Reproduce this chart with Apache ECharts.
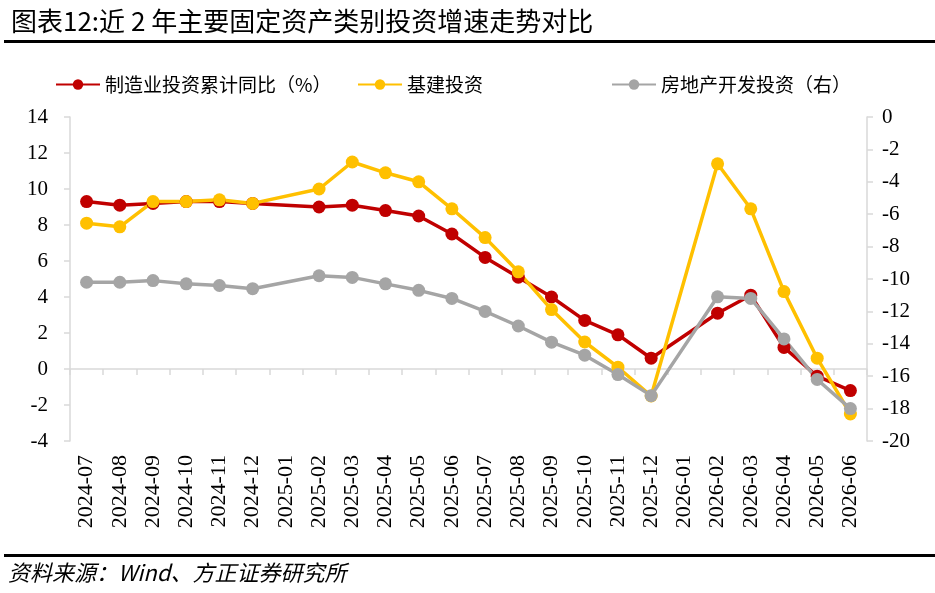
<!DOCTYPE html>
<html>
<head>
<meta charset="utf-8">
<script src="https://cdn.jsdelivr.net/npm/echarts@6/dist/echarts.min.js"></script>
<style>
  html, body { margin: 0; padding: 0; background: #fff; }
  #chart { width: 935px; height: 593px; }
</style>
</head>
<body>
<div id="chart"></div>
<script>
  var months = ['2024-07', '2024-08', '2024-09', '2024-10', '2024-11', '2024-12',
    '2025-01', '2025-02', '2025-03', '2025-04', '2025-05', '2025-06',
    '2025-07', '2025-08', '2025-09', '2025-10', '2025-11', '2025-12',
    '2026-01', '2026-02', '2026-03', '2026-04', '2026-05', '2026-06'];

  // 制造业投资累计同比 (%), left axis
  var manufacturing = [9.3, 9.1, 9.2, 9.3, 9.3, 9.2,
    null, 9.0, 9.1, 8.8, 8.5, 7.5,
    6.2, 5.1, 4.0, 2.7, 1.9, 0.6,
    null, 3.1, 4.1, 1.2, -0.4, -1.2];

  // 基建投资, left axis
  var infrastructure = [8.1, 7.9, 9.3, 9.3, 9.4, 9.2,
    null, 10.0, 11.5, 10.9, 10.4, 8.9,
    7.3, 5.4, 3.3, 1.5, 0.1, -1.5,
    null, 11.4, 8.9, 4.3, 0.6, -2.5];

  // 房地产开发投资, right axis
  var realEstate = [-10.2, -10.2, -10.1, -10.3, -10.4, -10.6,
    null, -9.8, -9.9, -10.3, -10.7, -11.2,
    -12.0, -12.9, -13.9, -14.7, -15.9, -17.2,
    null, -11.1, -11.2, -13.7, -16.2, -18.0];

  var leftTicks = { min: -4, max: 14, interval: 2 };
  var rightTicks = { min: -20, max: 0, interval: 2 };

  var cjk = '"Noto Sans CJK SC", sans-serif';
  var serif = '"Liberation Serif", "Times New Roman", serif';
  var axisGray = '#d9d9d9';

  var chart = echarts.init(document.getElementById('chart'));

  function lineSeries(name, data, color, yIndex) {
    return {
      name: name,
      type: 'line',
      data: data,
      yAxisIndex: yIndex,
      connectNulls: true,
      symbol: 'circle',
      symbolSize: 13,
      lineStyle: { width: 3.5, color: color },
      itemStyle: { color: color },
      emphasis: { disabled: true }
    };
  }

  function legendItem(name, left) {
    return {
      data: [name],
      left: left,
      top: 70,
      itemWidth: 44,
      itemHeight: 13,
      itemGap: 6,
      textStyle: { fontFamily: cjk, fontSize: 19, color: '#000' },
      selectedMode: false
    };
  }

  var option = {
    animation: false,
    title: {
      text: '图表12:近 2 年主要固定资产类别投资增速走势对比',
      left: 6,
      top: 3,
      textStyle: { fontFamily: cjk, fontSize: 26, fontWeight: 'normal', color: '#000' }
    },
    graphic: [
      { type: 'rect', shape: { x: 4, y: 40, width: 931, height: 3 }, style: { fill: '#000' } },
      { type: 'rect', shape: { x: 4, y: 554, width: 931, height: 3 }, style: { fill: '#000' } },
      {
        type: 'text', left: 8, top: 562,
        style: { text: '资料来源：Wind、方正证券研究所', font: 'italic 22px ' + cjk, fill: '#000' }
      }
    ],
    legend: [
      legendItem('制造业投资累计同比（%）', 50),
      legendItem('基建投资', 352),
      legendItem('房地产开发投资（右）', 606)
    ],
    grid: { left: 70, right: 68, top: 117, bottom: 152 },
    xAxis: [
      {
        type: 'category',
        data: months,
        boundaryGap: true,
        axisLine: { show: false, onZero: false },
        axisTick: { show: false },
        axisLabel: {
          interval: 0, rotate: 90, margin: 14,
          fontFamily: serif, fontSize: 22, color: '#000'
        }
      },
      {
        type: 'category',
        data: months,
        position: 'bottom',
        boundaryGap: true,
        axisLine: { show: true, onZero: true, onZeroAxisIndex: 0, lineStyle: { color: axisGray, width: 1.5 } },
        axisTick: { show: true, interval: 0, length: 6, lineStyle: { color: axisGray, width: 1.5 } },
        axisLabel: { show: false }
      }
    ],
    yAxis: [
      {
        type: 'value',
        min: leftTicks.min, max: leftTicks.max, interval: leftTicks.interval,
        splitLine: { show: false },
        axisLine: { show: true, lineStyle: { color: axisGray, width: 1.5 } },
        axisTick: { show: true, length: 6, lineStyle: { color: axisGray, width: 1.5 } },
        axisLabel: { fontFamily: serif, fontSize: 21, color: '#000', padding: [0, 14, 0, 0] }
      },
      {
        type: 'value',
        position: 'right',
        min: rightTicks.min, max: rightTicks.max, interval: rightTicks.interval,
        splitLine: { show: false },
        axisLine: { show: true, lineStyle: { color: axisGray, width: 1.5 } },
        axisTick: { show: true, length: 6, lineStyle: { color: axisGray, width: 1.5 } },
        axisLabel: { fontFamily: serif, fontSize: 21, color: '#000', padding: [0, 0, 0, 7] }
      }
    ],
    series: [
      lineSeries('制造业投资累计同比（%）', manufacturing, '#C00000', 0),
      lineSeries('基建投资', infrastructure, '#FFC000', 0),
      lineSeries('房地产开发投资（右）', realEstate, '#A5A5A5', 1)
    ]
  };

  chart.setOption(option);
</script>
</body>
</html>
